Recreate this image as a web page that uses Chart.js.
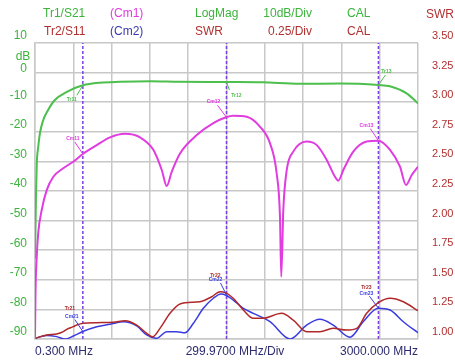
<!DOCTYPE html>
<html lang="en">
<head>
<meta charset="UTF-8">
<title>S21 / S11</title>
<script src="https://cdn.jsdelivr.net/npm/chart.js"></script>
<style>
  body { margin: 0; background: #fff; }
  #wrap { width: 455px; height: 360px; }
</style>
</head>
<body>
<div id="wrap"><canvas id="vna" width="455" height="360"></canvas></div>
<script>
// Tr1 / S21, LogMag (dB) vs frequency (MHz)
const tr1Freq = [0.3, 8, 14, 26, 39, 65, 92, 150, 250, 375, 510, 665, 900, 1130, 1500, 1780, 2075, 2390, 2690, 2780, 2911, 3000];
const tr1Db   = [-63, -42, -31, -25, -20.5, -16, -13.5, -9.5, -6.5, -4.3, -3.4, -3.1, -2.9, -3.1, -3.2, -3.3, -3.8, -3.7, -4.2, -4.6, -7.0, -10.4];

// Cm1, memory of Tr1 (dB)
const cm1Freq = [0.3, 4, 14, 26, 53, 92, 144, 222, 300, 375, 484, 588, 705, 823, 927, 993, 1032, 1071, 1136, 1267, 1397, 1496, 1554, 1658, 1763, 1841, 1893, 1919, 1929, 1945, 1972, 2023, 2128, 2207, 2285, 2350, 2376, 2415, 2493, 2598, 2689, 2781, 2859, 2906, 2951, 3000];
const cm1Db   = [-90, -75, -62, -54, -46.4, -39.7, -35.2, -32.3, -30.1, -27.5, -24.5, -21.9, -20.7, -21.9, -26.1, -32.9, -38.3, -33.5, -27.3, -21.1, -17.1, -15.1, -14.6, -14.9, -18.3, -23.9, -34, -48.7, -69, -46.4, -32.9, -26.7, -23.3, -24.5, -29.5, -35.2, -36.5, -32.9, -26.7, -23.3, -23, -26.1, -31.8, -38, -34.6, -31.8];

// Tr2 / S11, SWR
const tr2Freq = [0.3, 92, 170, 222, 249, 300, 327, 378, 484, 614, 705, 797, 875, 922, 979, 1058, 1136, 1293, 1384, 1449, 1496, 1553, 1632, 1710, 1788, 1932, 2023, 2128, 2232, 2336, 2441, 2520, 2598, 2689, 2781, 2885, 3000];
const tr2Swr  = [1.006, 1.034, 1.042, 1.062, 1.082, 1.104, 1.118, 1.133, 1.138, 1.141, 1.155, 1.118, 1.048, 1.019, 1.09, 1.217, 1.296, 1.315, 1.357, 1.40, 1.39, 1.344, 1.245, 1.175, 1.175, 1.217, 1.16, 1.062, 1.062, 1.09, 1.076, 1.09, 1.217, 1.307, 1.344, 1.315, 1.239];

// Cm2, memory of Tr2 (SWR)
const cm2Freq = [0.3, 92, 170, 235, 300, 374, 484, 588, 697, 797, 875, 953, 1032, 1110, 1175, 1241, 1319, 1397, 1457, 1496, 1553, 1632, 1710, 1841, 1998, 2128, 2232, 2336, 2467, 2571, 2689, 2781, 2885, 3000];
const cm2Swr  = [1.006, 1.03, 1.02, 1.0, 1.025, 1.063, 1.104, 1.125, 1.146, 1.11, 1.034, 1.006, 1.062, 1.062, 1.053, 1.133, 1.259, 1.344, 1.38, 1.37, 1.329, 1.259, 1.217, 1.146, 1.0, 1.118, 1.166, 1.118, 1.015, 1.146, 1.259, 1.245, 1.146, 1.053];

// markers (MHz) and values read at them
const markerFreqs = [375, 1500, 2690];
const tr1Mark = [-4.3, -3.2, -4.2];
const cm1Mark = [-27.5, -15.1, -23.0];
const tr2Mark = [1.135, 1.39, 1.31];
const cm2Mark = [1.063, 1.372, 1.26];

const dbTicks = [10, 0, -10, -20, -30, -40, -50, -60, -70, -80, -90];
const swrTicks = [3.5, 3.25, 3.0, 2.75, 2.5, 2.25, 2.0, 1.75, 1.5, 1.25, 1.0];

const GREEN = '#4cbf4c', GREEN_TXT = '#3cb43c';
const MAGENTA = '#e03ce0';
const RED = '#b02828', RED_TXT = '#b23030';
const BLUE = '#3a3ce0', BLUE_TXT = '#3a3ab4';
const VIOLET = '#7d3ee6';
const GRID = '#c8c8c8';
const NAVY = '#2c2c6e';
const FONT = '"Liberation Sans", Arial, sans-serif';

function pts(xs, ys) { return xs.map((x, i) => ({ x: x, y: ys[i] })); }

// tag text, trace, marker index, label offset, leader start offset (px from point)
const tags = [
  { t: 'Tr11', c: GREEN,   ax: 'yDb',  v: tr1Mark, i: 0, dx: -11, dy: 14,  lx: -6, ly: 10 },
  { t: 'Cm11', c: MAGENTA, ax: 'yDb',  v: cm1Mark, i: 0, dx: -10, dy: -15, lx: -8, ly: -12 },
  { t: 'Tr12', c: GREEN,   ax: 'yDb',  v: tr1Mark, i: 1, dx: 10,  dy: 14,  lx: 3,  ly: 8 },
  { t: 'Cm12', c: MAGENTA, ax: 'yDb',  v: cm1Mark, i: 1, dx: -13, dy: -16, lx: -9, ly: -12 },
  { t: 'Tr13', c: GREEN,   ax: 'yDb',  v: tr1Mark, i: 2, dx: 8,   dy: -13, lx: 7,  ly: -10 },
  { t: 'Cm13', c: MAGENTA, ax: 'yDb',  v: cm1Mark, i: 2, dx: -12, dy: -15, lx: -8, ly: -12 },
  { t: 'Tr21', c: RED,     ax: 'ySwr', v: tr2Mark, i: 0, dx: -13, dy: -14 },
  { t: 'Cm21', c: BLUE,    ax: 'ySwr', v: cm2Mark, i: 0, dx: -11, dy: -15, lx: -8, ly: -12 },
  { t: 'Tr22', c: RED,     ax: 'ySwr', v: tr2Mark, i: 1, dx: -11, dy: -17 },
  { t: 'Cm22', c: BLUE,    ax: 'ySwr', v: cm2Mark, i: 1, dx: -11, dy: -15, lx: -6, ly: -12 },
  { t: 'Tr23', c: RED,     ax: 'ySwr', v: tr2Mark, i: 2, dx: -12, dy: -15 },
  { t: 'Cm23', c: BLUE,    ax: 'ySwr', v: cm2Mark, i: 2, dx: -12, dy: -15, lx: -9, ly: -12 }
];

const overlay = {
  id: 'overlay',
  afterDraw(chart) {
    const ctx = chart.ctx;
    const s = chart.scales;
    ctx.save();
    ctx.textBaseline = 'middle';
    ctx.font = '12px ' + FONT;
    const txt = (t, x, y, c, a) => { ctx.fillStyle = c; ctx.textAlign = a || 'left'; ctx.fillText(t, x, y); };
    // header rows
    txt('Tr1/S21', 43, 14, GREEN_TXT);
    txt('(Cm1)', 110, 14, MAGENTA);
    txt('LogMag', 195, 14, GREEN_TXT);
    txt('10dB/Div', 312, 14, GREEN_TXT, 'right');
    txt('CAL', 347, 14, GREEN_TXT);
    txt('SWR', 440, 15, RED_TXT, 'center');
    txt('Tr2/S11', 44, 32, RED_TXT);
    txt('(Cm2)', 110, 32, BLUE_TXT);
    txt('SWR', 195, 32, RED_TXT);
    txt('0.25/Div', 312, 32, RED_TXT, 'right');
    txt('CAL', 347, 32, RED_TXT);
    // left unit
    txt('dB', 23, 57, GREEN_TXT, 'center');
    txt('0', 27, 69, GREEN_TXT, 'right');
    // frequency labels
    txt('0.300 MHz', 35, 352, NAVY);
    txt('299.9700 MHz/Div', 235, 352, NAVY, 'center');
    txt('3000.000 MHz', 418, 352, NAVY, 'right');
    // marker tags
    ctx.font = 'bold 5px ' + FONT;
    ctx.lineWidth = 1;
    tags.forEach(g => {
      const px = s.x.getPixelForValue(markerFreqs[g.i]);
      const py = s[g.ax].getPixelForValue(g.v[g.i]);
      txt(g.t, px + g.dx, py + g.dy, g.c, 'center');
      if (g.lx !== undefined) {
        ctx.strokeStyle = g.c;
        ctx.beginPath();
        ctx.moveTo(px + g.lx, py + g.ly);
        ctx.lineTo(px, py);
        ctx.stroke();
      }
    });
    ctx.restore();
  }
};

const markerSets = markerFreqs.map(f => ({
  data: [{ x: f, y: -90 }, { x: f, y: 10 }],
  yAxisID: 'yDb',
  borderColor: VIOLET,
  borderWidth: 1.5,
  borderDash: [3, 2],
  cubicInterpolationMode: 'default',
  tension: 0
}));

new Chart(document.getElementById('vna').getContext('2d'), {
  type: 'line',
  data: {
    datasets: [
      { label: 'Tr1/S21', data: pts(tr1Freq, tr1Db), yAxisID: 'yDb', borderColor: GREEN, borderWidth: 2 },
      { label: 'Cm1', data: pts(cm1Freq, cm1Db), yAxisID: 'yDb', borderColor: MAGENTA, borderWidth: 2 },
      { label: 'Tr2/S11', data: pts(tr2Freq, tr2Swr), yAxisID: 'ySwr', borderColor: RED, borderWidth: 1.5 },
      { label: 'Cm2', data: pts(cm2Freq, cm2Swr), yAxisID: 'ySwr', borderColor: BLUE, borderWidth: 1.5 }
    ].concat(markerSets)
  },
  options: {
    responsive: false,
    animation: false,
    layout: { padding: { top: 43, bottom: 21, left: 0, right: 0 } },
    elements: {
      point: { radius: 0 },
      line: { cubicInterpolationMode: 'monotone', fill: false }
    },
    plugins: { legend: { display: false }, tooltip: { enabled: false } },
    scales: {
      x: {
        type: 'linear', min: 0.3, max: 3000,
        ticks: { display: false, stepSize: 299.97 },
        grid: { color: GRID, lineWidth: 1.5, drawTicks: false },
        border: { color: GRID, width: 1.5 },
        afterFit: sc => { sc.height = 0; }
      },
      yDb: {
        position: 'left', min: -90, max: 10,
        afterBuildTicks: sc => { sc.ticks = dbTicks.map(v => ({ value: v })); },
        ticks: { color: GREEN_TXT, font: { size: 12, family: FONT }, padding: 8, labelOffset: -7,
                 callback: v => v === 0 ? '' : String(v) },
        grid: { color: GRID, lineWidth: 1.5, drawTicks: false },
        border: { color: GRID, width: 1.5 },
        afterFit: sc => { sc.width = 35; }
      },
      ySwr: {
        position: 'right', min: 1, max: 3.5,
        afterBuildTicks: sc => { sc.ticks = swrTicks.map(v => ({ value: v })); },
        ticks: { color: RED_TXT, font: { size: 11, family: FONT }, padding: 14, labelOffset: -7,
                 callback: v => v.toFixed(2) },
        grid: { drawOnChartArea: false, drawTicks: false },
        border: { display: false },
        afterFit: sc => { sc.width = 37; }
      }
    }
  },
  plugins: [overlay]
});
</script>
</body>
</html>
